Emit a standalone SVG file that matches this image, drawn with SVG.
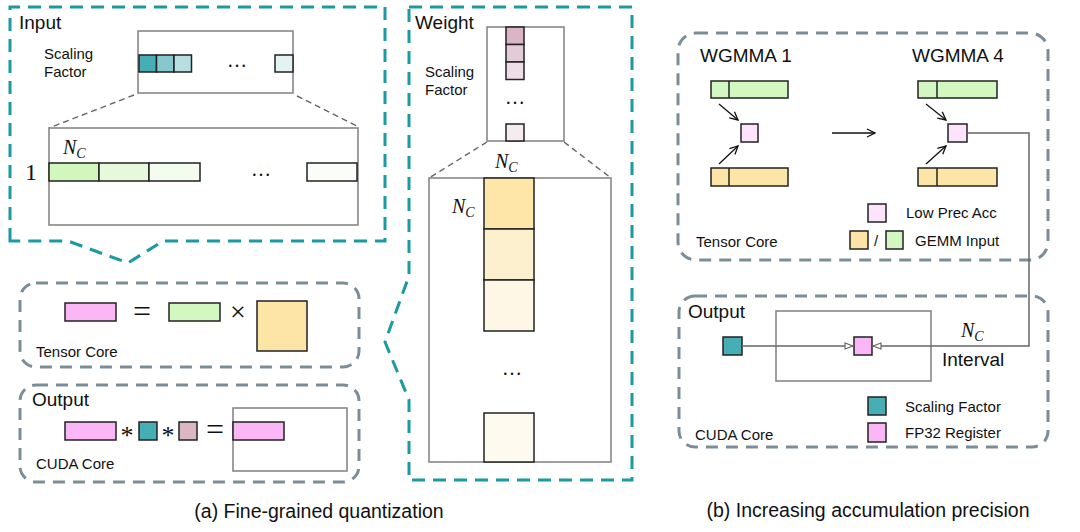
<svg xmlns="http://www.w3.org/2000/svg" width="1080" height="532" viewBox="0 0 1080 532">
<defs>
<style>
.teal{fill:none;stroke:#1b9aa2;stroke-width:3;stroke-dasharray:13 8}
.gray{fill:none;stroke:#7b8e98;stroke-width:3;stroke-dasharray:12 8}
.frame{fill:#fff;stroke:#888;stroke-width:1.6}
.zoomln{fill:none;stroke:#666;stroke-width:1.4;stroke-dasharray:6 4}
.cell{stroke:#222;stroke-width:1.5}
.lbl{font-family:"Liberation Sans",Arial,sans-serif;fill:#111}
.s15{font-size:15px}
.s19{font-size:19px}
.cap{font-size:19.5px}
.math{font-family:"Liberation Serif","Times New Roman",serif;font-style:italic;font-size:20px;fill:#111}
.ser{font-family:"Liberation Serif","Times New Roman",serif;fill:#111}
.conn{fill:none;stroke:#666;stroke-width:1.5}
.arr{fill:none;stroke:#111;stroke-width:1.3}
.pink{fill:#fbb6f6}.pinkl{fill:#fde3fb}
.green{fill:#d2f7c0}.orange{fill:#fde5a7}
.tealc{fill:#48aeb6}.mauve{fill:#dbb7c6}
</style>
<marker id="open" viewBox="0 0 10 10" refX="9" refY="5" markerWidth="10" markerHeight="10" markerUnits="userSpaceOnUse" orient="auto">
<path d="M1,1 L9,5 L1,9" fill="none" stroke="#111" stroke-width="1.3"/>
</marker>
<marker id="tri" viewBox="0 0 10 8" refX="9" refY="4" markerWidth="10" markerHeight="8" markerUnits="userSpaceOnUse" orient="auto">
<path d="M1,1 L9,4 L1,7 z" fill="#fff" stroke="#666" stroke-width="1.2"/>
</marker>
</defs>
<rect width="1080" height="532" fill="#fff"/>

<g id="input">
<path class="teal" d="M10,241 L10,7 L385,7 L385,241 L163,241 L128,263 L68,241 Z"/>
<text class="lbl s19" x="19" y="29">Input</text>
<rect class="frame" x="138" y="31" width="155" height="62"/>
<text class="lbl s15" x="44" y="59">Scaling</text>
<text class="lbl s15" x="44" y="77">Factor</text>
<rect class="cell" x="139" y="55" width="17.5" height="17" fill="#48aeb6"/>
<rect class="cell" x="156.5" y="55" width="17.5" height="17" fill="#86c8ce"/>
<rect class="cell" x="174" y="55" width="17.5" height="17" fill="#b7dfe2"/>
<rect class="cell" x="275" y="55" width="18" height="17" fill="#e3f2f3"/>
<text class="ser" x="237" y="67" font-size="20" text-anchor="middle">…</text>
<path class="zoomln" d="M134,95 L49,128 M297,96 L357,126"/>
<rect class="frame" x="49" y="128" width="309" height="97"/>
<text class="math" x="63" y="154">N<tspan font-size="14" dy="4">C</tspan></text>
<text class="ser" x="31" y="180" font-size="24" text-anchor="middle">1</text>
<rect class="cell" x="49" y="163" width="50" height="18" fill="#d2f7bd"/>
<rect class="cell" x="99" y="163" width="50" height="18" fill="#e6fadb"/>
<rect class="cell" x="149" y="163" width="51" height="18" fill="#f3fcee"/>
<rect class="cell" x="307" y="163" width="50" height="18" fill="#fafdf8"/>
<text class="ser" x="261" y="176" font-size="20" text-anchor="middle">…</text>
</g>

<g id="weight">
<path class="teal" d="M409,7 L632,7 L632,480 L409,480 L409,400 L385,342 L409,276 Z"/>
<text class="lbl s19" x="415" y="29">Weight</text>
<rect class="frame" x="487" y="27" width="77" height="114"/>
<text class="lbl s15" x="425" y="77">Scaling</text>
<text class="lbl s15" x="425" y="95">Factor</text>
<rect class="cell" x="506" y="27" width="18" height="17.5" fill="#dab5c8"/>
<rect class="cell" x="506" y="44.5" width="18" height="17.5" fill="#e5cad8"/>
<rect class="cell" x="506" y="62" width="18" height="17.5" fill="#eedde6"/>
<rect class="cell" x="506" y="124" width="18" height="17" fill="#f5ecf0"/>
<text class="ser" x="515" y="104" font-size="20" text-anchor="middle">…</text>
<path class="zoomln" d="M487,142 L429,178 M564,142 L611,178"/>
<rect class="frame" x="429" y="178" width="182" height="284"/>
<text class="math" x="495" y="168">N<tspan font-size="14" dy="4">C</tspan></text>
<text class="math" x="452" y="213">N<tspan font-size="14" dy="4">C</tspan></text>
<rect class="cell" x="484" y="178" width="50" height="51" fill="#fde6a8"/>
<rect class="cell" x="484" y="229" width="50" height="51" fill="#fdf0cf"/>
<rect class="cell" x="484" y="280" width="50" height="51" fill="#fef7e5"/>
<rect class="cell" x="484" y="413" width="50" height="49" fill="#fefaef"/>
<text class="ser" x="512" y="375" font-size="20" text-anchor="middle">…</text>
</g>

<g id="tensor-core-a">
<rect class="gray" x="20" y="283" width="339" height="84" rx="16"/>
<rect class="cell pink" x="65" y="303" width="51" height="18"/>
<text class="ser" x="142" y="322" font-size="32" text-anchor="middle">=</text>
<rect class="cell green" x="169" y="303" width="51" height="18"/>
<text class="ser" x="238" y="321" font-size="28" text-anchor="middle">×</text>
<rect class="cell orange" x="257" y="301" width="50" height="50"/>
<text class="lbl s15" x="36" y="357">Tensor Core</text>
</g>

<g id="output-a">
<rect class="gray" x="20" y="385" width="339" height="97" rx="16"/>
<text class="lbl s19" x="32" y="406">Output</text>
<rect class="frame" x="233" y="408" width="114" height="63"/>
<rect class="cell pink" x="65" y="422" width="51" height="18"/>
<text class="ser" x="127" y="444" font-size="26" text-anchor="middle">*</text>
<rect class="cell tealc" x="139" y="422" width="18" height="18"/>
<text class="ser" x="168" y="444" font-size="26" text-anchor="middle">*</text>
<rect class="cell mauve" x="179" y="422" width="18" height="18"/>
<text class="ser" x="215" y="440" font-size="32" text-anchor="middle">=</text>
<rect class="cell pink" x="233" y="422" width="51" height="18"/>
<text class="lbl s15" x="36" y="469">CUDA Core</text>
</g>

<text class="lbl cap" x="319" y="518" text-anchor="middle">(a) Fine-grained quantization</text>

<g id="tensor-core-b">
<rect class="gray" x="678" y="33" width="370" height="227" rx="18"/>
<text class="lbl s19" x="700" y="62">WGMMA 1</text>
<text class="lbl s19" x="912" y="62">WGMMA 4</text>
<rect class="cell green" x="711" y="81" width="77" height="17"/>
<line class="cell" x1="729" y1="81" x2="729" y2="98"/>
<rect class="cell pinkl" x="741" y="124" width="17" height="18"/>
<rect class="cell orange" x="711" y="168" width="77" height="18"/>
<line class="cell" x1="729" y1="168" x2="729" y2="186"/>
<rect class="cell green" x="918" y="81" width="79" height="17"/>
<line class="cell" x1="937" y1="81" x2="937" y2="98"/>
<rect class="cell pinkl" x="948" y="124" width="19" height="18"/>
<rect class="cell orange" x="918" y="168" width="79" height="18"/>
<line class="cell" x1="937" y1="168" x2="937" y2="186"/>
<rect class="cell pinkl" x="868" y="204" width="18" height="18"/>
<text class="lbl s15" x="906" y="218">Low Prec Acc</text>
<rect class="cell orange" x="850" y="231" width="18" height="18"/>
<text class="lbl s15" x="874" y="246">/</text>
<rect class="cell green" x="886" y="231" width="17" height="18"/>
<text class="lbl s15" x="915" y="246">GEMM Input</text>
<text class="lbl s15" x="696" y="247">Tensor Core</text>
</g>

<g id="cuda-core-b">
<rect class="gray" x="679" y="296" width="369" height="151" rx="16"/>
<text class="lbl s19" x="688" y="318">Output</text>
<rect class="frame" x="776" y="311" width="155" height="70" fill="none"/>
<rect class="cell tealc" x="723" y="337" width="19" height="18"/>
<rect class="cell pink" x="854" y="337" width="18" height="18"/>
<text class="math" x="961" y="337">N<tspan font-size="14" dy="4">C</tspan></text>
<text class="lbl s19" x="942" y="366">Interval</text>
<rect class="cell tealc" x="868" y="397" width="18" height="18"/>
<text class="lbl s15" x="905" y="412">Scaling Factor</text>
<rect class="cell pink" x="868" y="423" width="18" height="19"/>
<text class="lbl s15" x="905" y="438">FP32 Register</text>
<text class="lbl s15" x="695" y="440">CUDA Core</text>
</g>

<g id="connectors">
<line class="arr" x1="719" y1="104" x2="738" y2="120" marker-end="url(#open)"/>
<line class="arr" x1="719" y1="164" x2="738" y2="146" marker-end="url(#open)"/>
<line class="arr" x1="926" y1="104" x2="946" y2="120" marker-end="url(#open)"/>
<line class="arr" x1="926" y1="164" x2="946" y2="146" marker-end="url(#open)"/>
<line class="arr" x1="832" y1="133" x2="875" y2="133" marker-end="url(#open)"/>
<polyline class="conn" points="967,133 1029,133 1029,346 873,346" marker-end="url(#tri)"/>
<line class="conn" x1="742" y1="346" x2="853" y2="346" marker-end="url(#tri)"/>
</g>

<text class="lbl cap" x="868" y="517" text-anchor="middle">(b) Increasing accumulation precision</text>
</svg>
